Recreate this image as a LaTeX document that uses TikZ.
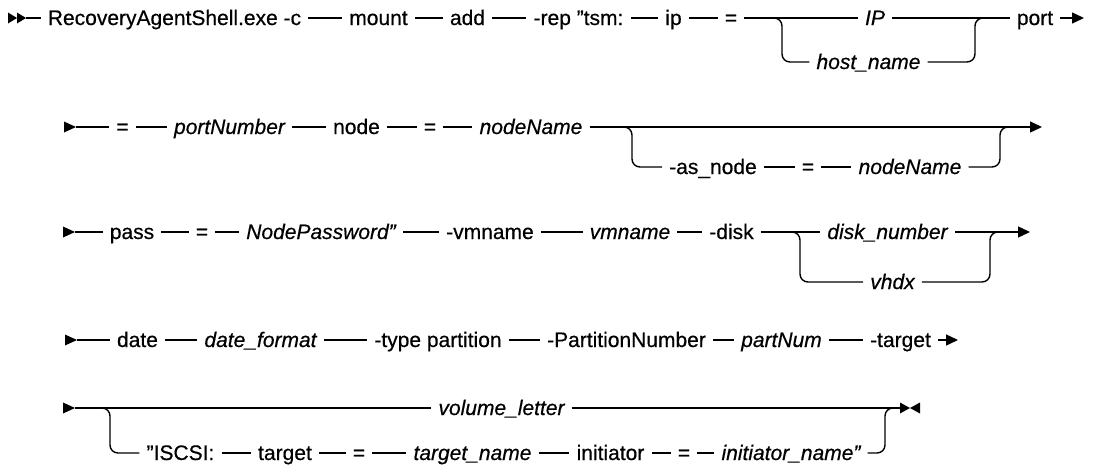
\documentclass[tikz,border=0pt]{standalone}
\usepackage{fontspec}
\setmainfont{Liberation Sans}[FakeBold=0.5]
\usetikzlibrary{arrows.meta}
\newcommand{\dq}{\char34\relax}
\tikzset{
  kw/.style={inner xsep=7pt, inner ysep=0pt, text height=15pt, text depth=1pt, font=\fontsize{21}{25}\selectfont},
  var/.style={kw, font=\fontsize{21}{25}\selectfont\itshape},
  ln/.style={line width=1.4pt},
  arr/.style={ln, -{Triangle[length=12pt,width=11pt]}},
  br/.style={ln, rounded corners=8pt},
  tri/.style={fill=black},
}
\begin{document}
\begin{tikzpicture}[x=1pt,y=-1pt]
\useasboundingbox (0,0) rectangle (1096,466);
% ---------- Row 1 ----------
\fill[tri] (8,12.5) -- (17,18) -- (8,23.5) -- cycle;
\fill[tri] (17,12.5) -- (26,18) -- (17,23.5) -- cycle;
\coordinate (s1) at (26,18);
\node[kw] (cmd) at (174.5,18) {RecoveryAgentShell.exe -c};
\node[kw] (mount) at (378.5,18) {mount};
\node[kw] (add) at (467.5,18) {add};
\node[kw] (rep) at (578.5,18) {-rep \dq tsm:};
\node[kw] (ip) at (673.5,18) {ip};
\node[kw] (eq1) at (731,18) {=};
\node[var] (IP) at (875,18) {IP};
\node[var] (host) at (868.5,62) {host\_name};
\node[kw] (port) at (1035,18) {port};
\coordinate (e1) at (1084,18);
\coordinate (b1a) at (772,18);
\coordinate (b1b) at (985,18);
\draw[ln] (s1) -- (cmd.west);
\draw[ln] (cmd.east) -- (mount.west);
\draw[ln] (mount.east) -- (add.west);
\draw[ln] (add.east) -- (rep.west);
\draw[ln] (rep.east) -- (ip.west);
\draw[ln] (ip.east) -- (eq1.west);
\draw[ln] (eq1.east) -- (IP.west);
\draw[ln] (IP.east) -- (port.west);
\draw[arr] (port.east) -- (e1);
\draw[br] (b1a) -- ([xshift=10pt]b1a) |- (host.west);
\draw[br] (host.east) -| ([xshift=-10pt]b1b) -- (b1b);
% ---------- Row 2 ----------
\fill[tri] (64,121.5) -- (76,127) -- (64,132.5) -- cycle;
\coordinate (s2) at (76,127);
\node[kw] (eq2) at (122.5,127) {=};
\node[var] (portnum) at (229.5,127) {portNumber};
\node[kw] (node) at (356.5,127) {node};
\node[kw] (eq3) at (430,127) {=};
\node[var] (nodename) at (531,127) {nodeName};
\node[kw] (asnode) at (713,167) {-as\_node};
\node[kw] (eq4) at (808,167) {=};
\node[var] (nodename2) at (910,167) {nodeName};
\coordinate (e2) at (1042,127);
\coordinate (b2a) at (622,127);
\coordinate (b2b) at (1010,127);
\draw[ln] (s2) -- (eq2.west);
\draw[ln] (eq2.east) -- (portnum.west);
\draw[ln] (portnum.east) -- (node.west);
\draw[ln] (node.east) -- (eq3.west);
\draw[ln] (eq3.east) -- (nodename.west);
\draw[arr] (nodename.east) -- (e2);
\draw[ln] (asnode.east) -- (eq4.west);
\draw[ln] (eq4.east) -- (nodename2.west);
\draw[br] (b2a) -- ([xshift=10pt]b2a) |- (asnode.west);
\draw[br] (nodename2.east) -| ([xshift=-10pt]b2b) -- (b2b);
% ---------- Row 3 ----------
\fill[tri] (63,226.5) -- (75,232) -- (63,237.5) -- cycle;
\coordinate (s3) at (75,232);
\node[kw] (pass) at (132,232) {pass};
\node[kw] (eq5) at (202,232) {=};
\node[var] (pw) at (321,232) {NodePassword\dq};
\node[kw] (vmopt) at (490,232) {-vmname};
\node[var] (vm) at (630,232) {vmname};
\node[kw] (disk) at (731.5,232) {-disk};
\node[var] (disknum) at (887.5,232) {disk\_number};
\node[var] (vhdx) at (892.5,282) {vhdx};
\coordinate (e3) at (1030,232);
\coordinate (b3a) at (790,232);
\coordinate (b3b) at (1000,232);
\draw[ln] (s3) -- (pass.west);
\draw[ln] (pass.east) -- (eq5.west);
\draw[ln] (eq5.east) -- (pw.west);
\draw[ln] (pw.east) -- (vmopt.west);
\draw[ln] (vmopt.east) -- (vm.west);
\draw[ln] (vm.east) -- (disk.west);
\draw[ln] (disk.east) -- (disknum.west);
\draw[arr] (disknum.east) -- (e3);
\draw[br] (b3a) -- ([xshift=10pt]b3a) |- (vhdx.west);
\draw[br] (vhdx.east) -| ([xshift=-10pt]b3b) -- (b3b);
% ---------- Row 4 ----------
\fill[tri] (65,334.5) -- (77,340) -- (65,345.5) -- cycle;
\coordinate (s4) at (77,340);
\node[kw] (date) at (137.5,340) {date};
\node[var] (datef) at (260.5,340) {date\_format};
\node[kw] (type) at (438,340) {-type partition};
\node[kw] (pnum) at (626.5,340) {-PartitionNumber};
\node[var] (partnum) at (781.5,340) {partNum};
\node[kw] (target) at (900.5,340) {-target};
\coordinate (e4) at (958,340);
\draw[ln] (s4) -- (date.west);
\draw[ln] (date.east) -- (datef.west);
\draw[ln] (datef.east) -- (type.west);
\draw[ln] (type.east) -- (pnum.west);
\draw[ln] (pnum.east) -- (partnum.west);
\draw[ln] (partnum.east) -- (target.west);
\draw[arr] (target.east) -- (e4);
% ---------- Row 5 ----------
\fill[tri] (63,402.5) -- (75,408) -- (63,413.5) -- cycle;
\coordinate (s5) at (75,408);
\node[var] (vol) at (501.5,408) {volume\_letter};
\node[kw] (iscsi) at (180.5,453) {\dq ISCSI:};
\node[kw] (tgt) at (285,453) {target};
\node[kw] (eq6) at (359,453) {=};
\node[var] (tname) at (472.5,453) {target\_name};
\node[kw] (init) at (610.5,453) {initiator};
\node[kw] (eq7) at (684,453) {=};
\node[var] (iname) at (791,453) {initiator\_name\dq};
\coordinate (e5) at (900,408);
\coordinate (b5a) at (100,408);
\coordinate (b5b) at (895,408);
\draw[ln] (s5) -- (vol.west);
\draw[ln] (vol.east) -- (e5);
\draw[ln] (iscsi.east) -- (tgt.west);
\draw[ln] (tgt.east) -- (eq6.west);
\draw[ln] (eq6.east) -- (tname.west);
\draw[ln] (tname.east) -- (init.west);
\draw[ln] (init.east) -- (eq7.west);
\draw[ln] (eq7.east) -- (iname.west);
\draw[br] (b5a) -- ([xshift=10pt]b5a) |- (iscsi.west);
\draw[br] (iname.east) -| ([xshift=-10pt]b5b) -- (b5b);
\fill[tri] (900,402.5) -- (910,408) -- (900,413.5) -- cycle;
\fill[tri] (920,402.5) -- (910,408) -- (920,413.5) -- cycle;
\end{tikzpicture}
\end{document}
